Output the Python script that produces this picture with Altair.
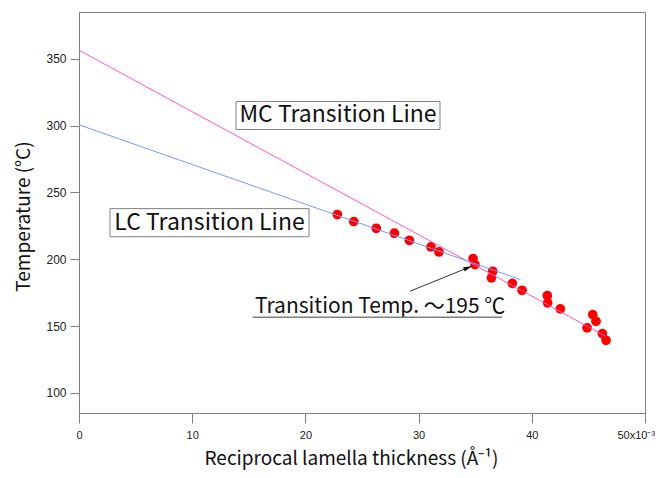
import altair as alt
import pandas as pd

# data points (reciprocal lamella thickness x1e-3 1/Å, temperature °C)
pt_x = [22.82, 24.27, 26.26, 27.86, 29.18, 31.09, 31.80, 34.81, 34.98, 36.55, 36.43,
        38.28, 39.14, 41.37, 41.40, 42.52, 45.38, 45.67, 44.88, 46.23, 46.56]
pt_t = [233.5, 228.2, 223.2, 219.5, 214.2, 209.3, 205.5, 200.5, 196.0, 191.0, 186.1,
        182.0, 176.8, 172.8, 167.4, 162.9, 158.6, 153.6, 148.7, 144.4, 139.4]

# fitted lines (end points)
mc_x = [0.0, 46.5]
mc_t = [356.4, 142.5]
lc_x = [0.0, 39.0]
lc_t = [300.6, 184.8]

# annotation boxes
box_text = ["MC Transition Line", "LC Transition Line"]
box_x = [22.88, 11.53]
box_t = [307.6, 227.5]
box_x1 = [13.87, 2.74]
box_x2 = [31.89, 20.32]
box_t1 = [297.1, 216.9]
box_t2 = [318.0, 237.9]

# transition annotation
tr_text = ["Transition Temp. ～195 ℃"]
tr_x = [15.55]
tr_t = [160.1]
ul_x = [15.34, 37.37]
ul_t = [156.6, 156.6]
arrow_x = [29.24, 34.69]
arrow_t = [176.1, 194.8]

x_ticks = [0, 10, 20, 30, 40, 50]
y_ticks = [100, 150, 200, 250, 300, 350]

ANN_FONT = "Noto Sans CJK JP"
LAB_FONT = "Liberation Sans"

xs = alt.Scale(domain=[0, 50], nice=False, zero=False)
ys = alt.Scale(domain=[85, 385], nice=False, zero=False)

x_axis = alt.Axis(values=x_ticks, grid=False, tickSize=10, labelPadding=6,
                  labelFlush=False, labelOverlap=False,
                  labelExpr="datum.value == 50 ? '50x10⁻³' : datum.label",
                  labelAlign={"expr": "datum.value == 50 ? 'left' : 'center'"},
                  labelOffset={"expr": "datum.value == 50 ? -28 : 0"},
                  domainColor="#808080", tickColor="#808080",
                  labelColor="#222222", labelFont=LAB_FONT, labelFontSize=11,
                  title="Reciprocal lamella thickness (Å⁻¹)",
                  titleFont=ANN_FONT, titleFontSize=19, titleFontWeight="normal",
                  titleColor="#111111", titleBaseline="alphabetic",
                  titleX=272, titleY=51)
y_axis = alt.Axis(values=y_ticks, grid=False, tickSize=9, labelPadding=4,
                  domainColor="#808080", tickColor="#808080",
                  labelColor="#222222", labelFont=LAB_FONT, labelFontSize=12,
                  title="Temperature (°C)",
                  titleFont=ANN_FONT, titleFontSize=19, titleFontWeight="normal",
                  titleColor="#111111", titleBaseline="alphabetic",
                  titleX=-50, titleY=204, titleAngle=-90)

pts = pd.DataFrame({"x": pt_x, "t": pt_t})
mc = pd.DataFrame({"x": mc_x, "t": mc_t})
lc = pd.DataFrame({"x": lc_x, "t": lc_t})
boxes = pd.DataFrame({"text": box_text, "x": box_x, "t": box_t,
                      "x1": box_x1, "x2": box_x2, "t1": box_t1, "t2": box_t2})
tr = pd.DataFrame({"text": tr_text, "x": tr_x, "t": tr_t})
ul = pd.DataFrame({"x": ul_x, "t": ul_t})
arr = pd.DataFrame({"x": arrow_x, "t": arrow_t})
arr_head = arr.iloc[[1]]

points = alt.Chart(pts).mark_circle(color="#ff0000", opacity=1, size=95).encode(
    x=alt.X("x:Q", scale=xs, axis=x_axis),
    y=alt.Y("t:Q", scale=ys, axis=y_axis),
)
mc_line = alt.Chart(mc).mark_line(color="#ff55cc", strokeWidth=1).encode(
    x=alt.X("x:Q", scale=xs), y=alt.Y("t:Q", scale=ys))
lc_line = alt.Chart(lc).mark_line(color="#7799ff", strokeWidth=1).encode(
    x=alt.X("x:Q", scale=xs), y=alt.Y("t:Q", scale=ys))

rects = alt.Chart(boxes).mark_rect(fill="white", stroke="#808080", strokeWidth=1).encode(
    x=alt.X("x1:Q", scale=xs), x2="x2:Q",
    y=alt.Y("t1:Q", scale=ys), y2="t2:Q")
rect_text = alt.Chart(boxes).mark_text(font=ANN_FONT, fontSize=23, color="#111111",
                                       align="center", baseline="middle").encode(
    x=alt.X("x:Q", scale=xs), y=alt.Y("t:Q", scale=ys), text="text:N")

tr_label = alt.Chart(tr).mark_text(font=ANN_FONT, fontSize=21, color="#111111",
                                   align="left", baseline="alphabetic").encode(
    x=alt.X("x:Q", scale=xs), y=alt.Y("t:Q", scale=ys), text="text:N")
underline = alt.Chart(ul).mark_line(color="#808080", strokeWidth=1.5).encode(
    x=alt.X("x:Q", scale=xs), y=alt.Y("t:Q", scale=ys))
arrow_line = alt.Chart(arr).mark_line(color="#333333", strokeWidth=1).encode(
    x=alt.X("x:Q", scale=xs), y=alt.Y("t:Q", scale=ys))
arrow_tip = alt.Chart(arr_head).mark_point(
    shape="M0,0L-0.8,2.8L0.8,2.8Z", filled=True, color="#111111", opacity=1,
    size=36, angle=68).encode(
    x=alt.X("x:Q", scale=xs), y=alt.Y("t:Q", scale=ys))

chart = alt.layer(points, mc_line, lc_line, rects, rect_text, tr_label, underline,
                  arrow_line, arrow_tip).properties(
    width=566, height=401,
    autosize=alt.AutoSizeParams(type="none"),
    padding={"left": 71, "top": 4, "right": 10, "bottom": 57},
).configure_view(stroke="#808080", strokeWidth=1)

chart.save("out.html", embed_options={"renderer": "svg", "actions": False})
